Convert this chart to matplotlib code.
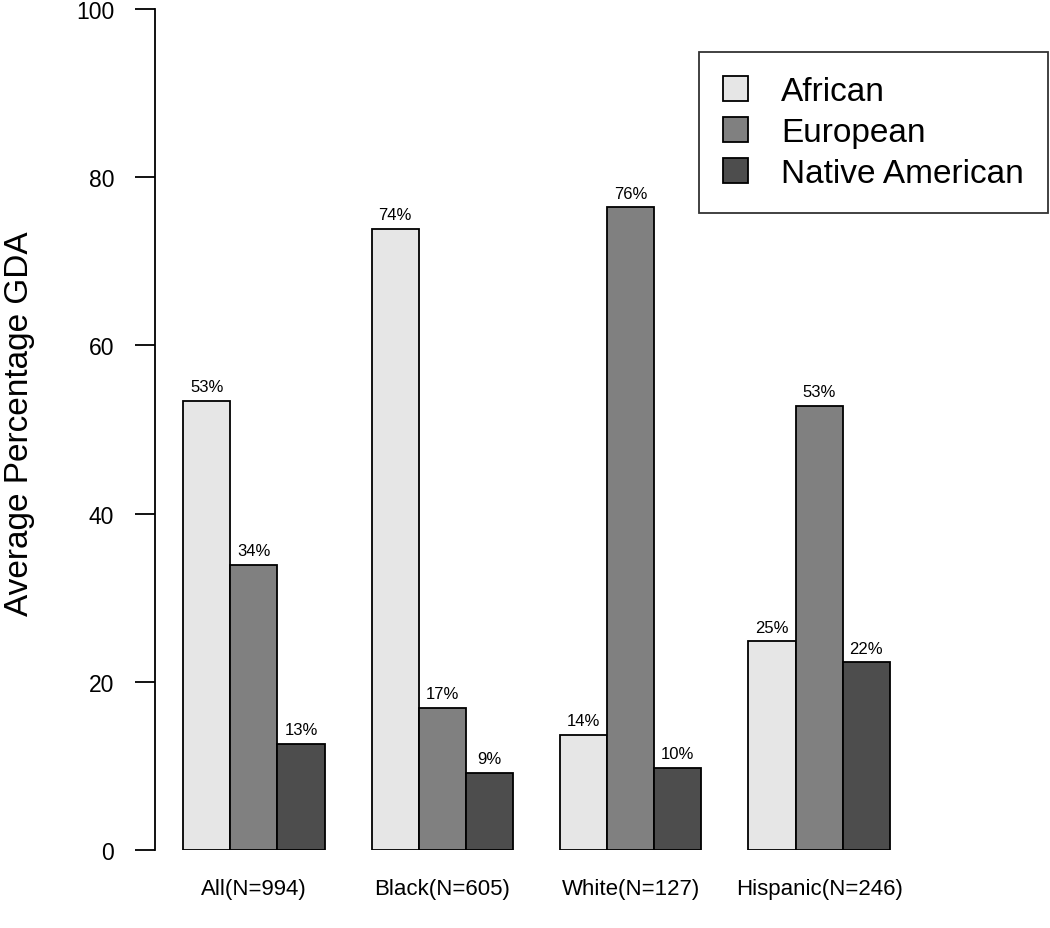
import matplotlib
matplotlib.use('Agg')
import matplotlib.pyplot as plt
import numpy as np
from matplotlib.patches import Patch

plt.rcParams['font.family'] = ['Liberation Sans', 'DejaVu Sans']

# Data
groups = ['All(N=994)', 'Black(N=605)', 'White(N=127)', 'Hispanic(N=246)']
ancestries = ['African', 'European', 'Native American']
african = [53.4, 73.9, 13.7, 24.8]
european = [33.9, 16.9, 76.4, 52.8]
native_american = [12.6, 9.2, 9.8, 22.3]
colors = ['#e6e6e6', '#808080', '#4d4d4d']

W, H = 1050, 929
fig = plt.figure(figsize=(W / 100, H / 100), dpi=100)

# axes placed in pixel terms: left spine at x=155, top at y=10, zero line at y=851
ax_left, ax_right = 155, 1048
ax_top, ax_bottom = 10, 851
ax = fig.add_axes([ax_left / W, 1 - ax_bottom / H,
                   (ax_right - ax_left) / W, (ax_bottom - ax_top) / H])

series = [african, european, native_american]
n_groups = len(groups)
# R style beside barplot: one unit gap before every group of three bars
group_start = 1 + 4 * np.arange(n_groups)

for k, (vals, col) in enumerate(zip(series, colors)):
    xs = group_start + k
    bars = ax.bar(xs, vals, width=1.0, align='edge', color=col,
                  edgecolor='black', linewidth=1.3, label=ancestries[k])
    for b, v in zip(bars, vals):
        ax.annotate(f'{round(v)}%', (b.get_x() + b.get_width() / 2, v),
                    xytext=(0, 7), textcoords='offset points',
                    ha='center', va='baseline', fontsize=12)

px_per_unit = 47.1
ax.set_xlim(0.4, 0.4 + (ax_right - ax_left) / px_per_unit)
ax.set_ylim(0, 100)

ax.set_xticks(group_start + 1.5)
ax.set_xticklabels(groups, fontsize=16)
ax.tick_params(axis='x', length=0, pad=20)

ax.set_yticks([0, 20, 40, 60, 80, 100])
ax.tick_params(axis='y', length=14.4, width=1.3, pad=15, labelsize=16.5)

for side in ['top', 'right', 'bottom']:
    ax.spines[side].set_visible(False)
ax.spines['left'].set_linewidth(1.3)
ax.spines['left'].set_bounds(0, 100)

fig.text(20 / W, 1 - 424 / H, 'Average Percentage GDA', rotation=90,
         ha='center', va='center', fontsize=24)

handles = [Patch(facecolor=c, edgecolor='black', linewidth=1.3) for c in colors]
leg = ax.legend(handles, ancestries, loc='upper right',
                bbox_to_anchor=(ax_right / W, 1 - 53 / H),
                bbox_transform=fig.transFigure, fontsize=24,
                frameon=True, fancybox=False, borderpad=0.72,
                handlelength=0.75, handleheight=0.75, handletextpad=1.0,
                labelspacing=0.3, borderaxespad=0)
leg.get_frame().set_edgecolor('black')
leg.get_frame().set_linewidth(1.3)

fig.savefig('out.png', dpi=100)
